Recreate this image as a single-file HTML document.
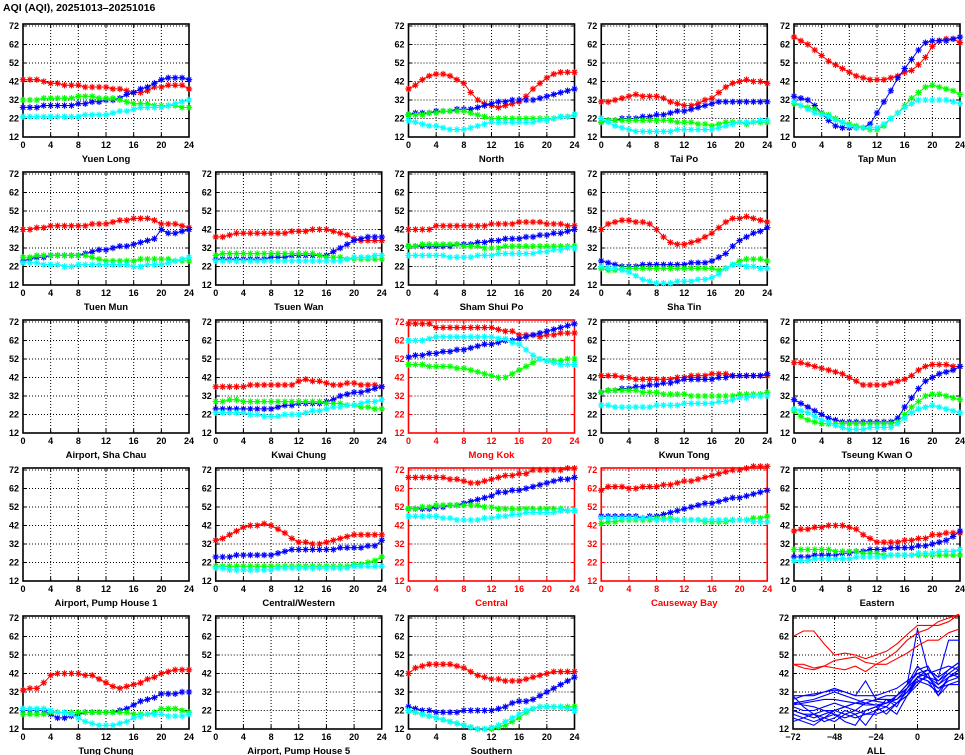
<!DOCTYPE html>
<html><head><meta charset="utf-8"><style>
html,body{margin:0;padding:0;background:#fff;}
svg{display:block;font-family:"Liberation Sans","DejaVu Sans",sans-serif;font-weight:bold;}
</style></head><body>
<svg id="chart" width="965" height="755" viewBox="0 0 965 755" xmlns="http://www.w3.org/2000/svg">
<text x="3" y="11" font-size="10.5">AQI (AQI), 20251013–20251016</text>
</svg>
<script>
// ---- data (hourly 0..24) ----
const YL_R=[43,43,43,42,41,41,40,40,40,39,39,39,39,38,38,37,36,36,37,39,39,40,40,40,38];
const YL_B=[28,28,28,29,29,29,29,29,30,30,31,31,32,32,33,35,36,38,39,41,43,44,44,44,43];
const YL_G=[32,32,32,33,33,33,33,33,34,34,34,33,33,33,32,31,30,30,30,29,29,29,29,28,28];
const YL_C=[23,23,23,23,23,23,23,23,23,24,24,24,24,25,26,26,27,28,28,28,28,29,30,31,32];
const NO_R=[38,40,43,45,46,46,45,43,41,36,32,30,29,28,29,30,31,34,38,41,44,46,47,47,47];
const NO_B=[24,25,25,25,26,26,26,27,27,27,28,29,30,31,31,32,32,32,32,33,34,35,36,37,38];
const NO_G=[24,24,24,25,25,26,26,26,26,25,24,23,22,22,22,22,22,22,22,22,22,22,23,23,24];
const NO_C=[21,20,19,18,18,17,16,16,16,17,18,19,20,20,20,20,20,20,20,21,21,22,23,23,24];
const TP_R=[31,31,32,33,34,35,34,34,34,33,31,30,29,29,30,32,33,36,39,41,42,43,42,42,41];
const TP_B=[20,21,21,22,22,22,23,23,24,24,25,26,26,27,28,29,30,31,31,31,31,31,31,31,31];
const TP_G=[20,21,21,21,21,21,21,21,21,21,21,20,20,20,19,19,18,19,20,20,20,19,20,20,20];
const TP_C=[22,20,18,17,16,15,15,15,15,15,15,16,16,16,16,16,16,17,18,19,20,20,20,21,21];
const TM_R=[66,64,62,59,56,53,51,49,47,45,44,43,43,43,44,45,47,48,51,55,61,64,65,65,63];
const TM_B=[34,33,32,29,25,21,18,17,17,17,17,19,25,31,37,44,49,54,59,63,64,64,64,65,66];
const TM_G=[30,29,28,27,25,24,22,20,19,18,17,16,16,18,22,25,29,33,36,39,40,39,38,37,35];
const TM_C=[31,29,27,25,24,23,21,20,18,17,17,17,17,19,22,25,28,30,32,32,32,32,32,31,30];
const TU_R=[42,42,43,43,44,44,44,44,44,44,45,45,45,46,47,47,48,48,48,47,45,45,45,44,43];
const TU_B=[25,26,27,27,28,28,28,28,28,29,30,31,31,32,33,33,34,35,36,37,42,40,40,41,42];
const TU_G=[27,27,28,28,28,28,28,28,28,28,27,26,25,25,25,25,25,26,26,26,26,26,25,25,25];
const TU_C=[24,24,24,23,23,23,22,22,23,23,23,23,23,23,23,23,22,22,23,23,23,24,25,26,27];
const TW_R=[38,38,39,40,40,40,40,40,40,40,40,41,41,41,42,42,42,41,40,39,37,36,36,36,36];
const TW_B=[26,26,26,26,26,26,26,26,27,27,27,28,28,28,28,28,28,30,32,34,36,37,38,38,38];
const TW_G=[28,29,29,29,29,29,29,29,29,29,29,29,29,29,29,28,27,27,27,26,26,26,26,26,26];
const TW_C=[25,25,25,25,25,25,25,25,25,25,25,25,25,25,25,25,25,25,25,26,27,27,27,28,28];
const SS_R=[42,42,42,42,44,44,44,44,44,44,44,44,45,45,45,45,46,46,46,46,45,45,45,44,44];
const SS_B=[33,33,33,33,33,33,33,34,34,34,35,35,36,36,37,37,37,38,38,39,39,40,40,41,42];
const SS_G=[33,33,34,34,34,34,34,34,33,33,33,32,32,32,33,33,33,33,33,33,33,33,33,33,33];
const SS_C=[28,28,28,28,28,28,27,27,27,27,28,28,28,29,29,29,29,29,29,30,30,31,31,32,32];
const ST_R=[42,45,46,47,47,46,46,45,42,38,35,34,34,35,36,38,40,43,46,48,48,49,48,47,46];
const ST_B=[25,24,23,22,22,22,23,23,23,23,23,23,23,24,24,24,25,27,29,33,36,38,40,41,43];
const ST_G=[21,20,20,21,21,21,21,21,21,21,21,21,21,21,21,21,21,20,21,23,25,26,26,26,25];
const ST_C=[22,21,21,20,19,17,15,14,13,13,13,14,14,14,15,15,16,18,21,23,23,22,22,21,21];
const KC_R=[37,37,37,37,37,38,38,38,38,38,38,38,40,41,40,40,39,38,38,39,39,38,38,38,37];
const KC_B=[25,25,25,25,25,25,25,25,25,26,27,27,28,28,28,28,29,30,32,33,34,34,35,36,37];
const KC_G=[29,29,30,30,29,29,29,29,29,29,29,29,29,29,29,29,28,28,28,27,27,26,26,25,25];
const KC_C=[23,23,23,23,23,22,22,21,21,21,22,22,22,23,24,24,25,26,26,27,27,28,29,29,30];
const MK_R=[71,71,71,71,69,69,69,69,69,69,69,69,69,68,67,67,65,65,65,64,65,65,66,66,66];
const MK_B=[53,54,54,55,55,56,56,57,57,58,59,60,60,61,62,62,63,64,65,66,67,68,69,70,71];
const MK_G=[49,49,49,48,48,48,48,47,47,46,45,44,43,42,42,44,46,48,50,52,51,51,51,52,52];
const MK_C=[62,62,62,63,64,64,64,64,64,64,64,64,64,63,63,61,60,57,54,52,51,50,49,49,49];
const KT_R=[43,43,43,42,42,41,41,41,41,41,41,42,42,43,43,43,44,44,44,43,43,43,43,43,43];
const KT_B=[34,35,35,36,36,37,37,38,38,39,39,40,41,41,41,41,41,42,42,43,43,43,43,43,44];
const KT_G=[34,35,35,35,35,35,34,34,34,33,33,33,33,32,32,32,32,32,32,32,33,33,33,33,34];
const KT_C=[27,27,26,26,26,26,26,26,27,27,27,27,28,28,28,28,28,29,29,30,31,31,32,32,32];
const TK_R=[50,50,49,48,47,46,45,44,42,40,38,38,38,38,39,40,41,43,46,48,49,49,49,48,48];
const TK_B=[30,28,26,24,22,20,19,18,18,18,18,18,18,18,18,20,26,31,36,40,42,44,45,46,48];
const TK_G=[24,21,19,18,17,17,17,17,17,17,17,17,17,17,17,18,22,26,29,32,33,33,32,31,30];
const TK_C=[25,24,23,21,19,18,16,15,14,14,14,15,15,15,15,17,20,23,25,26,27,26,25,24,23];
const CW_R=[34,35,37,39,41,42,42,43,42,40,38,35,33,33,32,32,33,34,35,36,37,37,37,37,37];
const CW_B=[25,25,25,26,26,26,26,26,26,27,28,29,29,29,29,29,29,29,30,30,30,30,31,31,34];
const CW_G=[20,20,20,20,20,20,20,20,20,20,20,20,20,20,20,20,20,20,20,20,21,21,22,23,25];
const CW_C=[19,19,18,18,18,18,18,18,18,19,19,19,19,19,19,19,19,19,19,19,20,20,20,20,20];
const CE_R=[68,68,68,68,68,68,67,67,66,65,65,66,67,68,69,69,70,70,72,72,72,72,72,73,73];
const CE_B=[51,51,51,51,52,52,53,53,54,55,56,57,58,60,60,61,61,62,63,64,65,66,67,67,68];
const CE_G=[51,51,52,52,53,53,53,53,53,53,53,52,52,51,51,51,51,51,51,51,51,51,51,50,50];
const CE_C=[47,47,47,47,47,46,46,45,45,45,45,46,46,47,47,48,48,49,49,49,49,49,50,50,50];
const CB_R=[61,63,63,63,62,62,63,63,63,64,64,65,66,66,67,68,69,70,71,72,72,73,74,74,74];
const CB_B=[47,47,47,47,47,47,46,47,47,48,49,50,51,52,53,54,54,55,56,57,57,58,59,60,61];
const CB_G=[43,44,44,45,45,45,45,45,46,46,46,45,45,45,45,44,44,44,44,45,45,45,46,46,47];
const CB_C=[46,46,46,46,46,46,46,46,45,45,45,45,45,45,45,45,45,45,45,45,45,45,44,44,44];
const EA_R=[39,40,40,41,41,42,42,42,41,40,37,35,33,33,33,33,34,34,35,35,37,37,38,38,38];
const EA_B=[25,25,25,26,26,26,26,27,27,28,28,29,29,29,30,30,30,30,31,31,32,33,34,36,39];
const EA_G=[29,29,29,29,29,29,28,28,28,28,27,27,27,26,26,26,26,26,26,26,26,26,26,26,26];
const EA_C=[23,23,23,24,24,24,24,24,24,25,25,25,25,25,26,26,26,26,27,27,27,28,28,28,29];
const TC_R=[33,34,34,37,41,42,42,42,42,41,41,39,37,35,34,35,36,37,39,40,42,43,44,44,44];
const TC_B=[22,22,22,22,20,18,18,19,20,21,21,21,21,21,22,23,25,27,28,29,31,31,31,32,32];
const TC_G=[20,20,20,20,21,21,21,21,21,21,21,21,21,21,21,21,20,20,20,21,23,23,23,22,21];
const TC_C=[23,23,23,23,22,21,21,20,18,16,15,14,14,14,15,16,18,19,20,20,20,19,19,19,20];
const SO_R=[42,45,46,47,47,47,47,46,45,43,41,40,39,39,38,38,38,39,40,41,42,43,43,43,43];
const SO_B=[24,23,22,22,21,21,21,21,22,22,22,22,22,23,24,26,27,27,28,30,32,34,36,38,40];
const SO_G=[22,21,20,19,18,17,16,15,14,13,12,12,12,13,14,16,18,21,23,24,24,24,24,24,24];
const SO_C=[22,21,20,19,18,17,16,15,14,13,12,12,13,14,16,18,20,22,23,24,24,24,24,23,22];
// ALL panel: hours -72..24 step 6
const ALL_HOURS=[-72,-66,-60,-54,-48,-42,-36,-30,-24,-18,-12,-6,0,6,12,18,24];
const ALL_RED_1=[62,65,65,58,52,53,52,50,52,54,58,63,68,68,68,70,74];
const ALL_RED_2=[47,45,44,46,49,50,51,48,47,50,54,60,64,66,70,72,74];
const ALL_RED_3=[47,47,45,46,45,44,46,43,47,47,50,53,57,60,60,64,66];
const ALL_BLUE_1=[30,24,20,16,18,22,20,14,22,28,26,30,40,38,30,40,44];
const ALL_BLUE_2=[22,20,18,20,22,24,26,28,27,26,30,34,44,46,36,42,46];
const ALL_BLUE_3=[25,26,27,28,28,27,26,25,25,26,30,36,42,44,40,44,48];
const ALL_BLUE_4=[20,18,16,18,22,20,18,20,22,24,20,30,38,40,34,38,40];
const ALL_BLUE_5=[26,27,28,30,32,30,28,26,28,28,28,34,40,42,30,36,38];
const ALL_BLUE_6=[18,16,14,18,20,16,14,22,24,20,26,32,38,36,32,40,42];
const ALL_BLUE_7=[24,22,22,24,26,24,22,20,20,22,26,30,36,42,44,46,44];
const ALL_BLUE_8=[28,30,30,32,34,32,30,38,28,30,30,36,66,44,40,60,60];
const ALL_BLUE_9=[22,20,20,18,16,20,22,26,28,28,24,34,40,38,34,36,36];
const ALL_BLUE_10=[30,30,31,32,33,32,30,30,30,32,34,38,42,40,36,40,44];
const ALL_BLUE_11=[16,18,20,22,20,18,20,22,24,26,28,32,40,44,38,42,40];
const ALL_BLUE_12=[26,25,24,22,22,24,26,26,25,24,30,36,46,40,38,44,48];
const Y_TICKS=[12,22,32,42,52,62,72];
const X_TICKS=[0,4,8,12,16,20,24];
const ALL_X_TICKS=[-72,-48,-24,0,24];

const stations=[
 {n:"Yuen Long",c:0,r:0,s:[YL_R,YL_B,YL_G,YL_C]},
 {n:"North",c:2,r:0,s:[NO_R,NO_B,NO_G,NO_C]},
 {n:"Tai Po",c:3,r:0,s:[TP_R,TP_B,TP_G,TP_C]},
 {n:"Tap Mun",c:4,r:0,s:[TM_R,TM_B,TM_G,TM_C]},
 {n:"Tuen Mun",c:0,r:1,s:[TU_R,TU_B,TU_G,TU_C]},
 {n:"Tsuen Wan",c:1,r:1,s:[TW_R,TW_B,TW_G,TW_C]},
 {n:"Sham Shui Po",c:2,r:1,s:[SS_R,SS_B,SS_G,SS_C]},
 {n:"Sha Tin",c:3,r:1,s:[ST_R,ST_B,ST_G,ST_C]},
 {n:"Airport, Sha Chau",c:0,r:2,s:null},
 {n:"Kwai Chung",c:1,r:2,s:[KC_R,KC_B,KC_G,KC_C]},
 {n:"Mong Kok",c:2,r:2,road:true,s:[MK_R,MK_B,MK_G,MK_C]},
 {n:"Kwun Tong",c:3,r:2,s:[KT_R,KT_B,KT_G,KT_C]},
 {n:"Tseung Kwan O",c:4,r:2,s:[TK_R,TK_B,TK_G,TK_C]},
 {n:"Airport, Pump House 1",c:0,r:3,s:null},
 {n:"Central/Western",c:1,r:3,s:[CW_R,CW_B,CW_G,CW_C]},
 {n:"Central",c:2,r:3,road:true,s:[CE_R,CE_B,CE_G,CE_C]},
 {n:"Causeway Bay",c:3,r:3,road:true,s:[CB_R,CB_B,CB_G,CB_C]},
 {n:"Eastern",c:4,r:3,s:[EA_R,EA_B,EA_G,EA_C]},
 {n:"Tung Chung",c:0,r:4,s:[TC_R,TC_B,TC_G,TC_C]},
 {n:"Airport, Pump House 5",c:1,r:4,s:null},
 {n:"Southern",c:2,r:4,s:[SO_R,SO_B,SO_G,SO_C]}
];
const COLORS=["#ff0000","#0000ff","#00ff00","#00ffff"];
const NS="http://www.w3.org/2000/svg";
const svg=document.getElementById('chart');
const W=166,PITCHX=192.75,PITCHY=148;
function mk(tag,attrs,parent){const e=document.createElementNS(NS,tag);for(const k in attrs)e.setAttribute(k,attrs[k]);(parent||svg).appendChild(e);return e;}
function slug(s){return s.toLowerCase().replace(/[^a-z0-9]+/g,'-').replace(/-$/,'');}

function drawFrame(g,left,bottom,xMin,xMax,xTicks,name,road){
  const top=bottom-113;
  const yS=v=>bottom-(v-12)*1.85;
  const xS=h=>left+(h-xMin)*W/(xMax-xMin);
  const fc=road?"#ff0000":"#000";
  Y_TICKS.forEach(v=>{
    const y=yS(v);
    if(v>12){const l=mk('line',{x1:left,x2:left+W,y1:y,y2:y,stroke:"#000","stroke-width":1,"stroke-dasharray":"1,2"},g);
      
      }
    mk('line',{x1:left,x2:left+4,y1:y,y2:y,stroke:fc,"stroke-width":1},g);
    mk('line',{x1:left+W-4,x2:left+W,y1:y,y2:y,stroke:fc,"stroke-width":1},g);
    const t=mk('text',{x:left-4,y:y+3,"font-size":9,"text-anchor":"end",fill:fc},g);
    t.textContent=v;
    
    
  });
  xTicks.forEach((h,i)=>{
    const x=xS(h);
    if(i>0&&i<xTicks.length-1){const l=mk('line',{x1:x,x2:x,y1:top,y2:bottom,stroke:"#000","stroke-width":1,"stroke-dasharray":"1,2"},g);
      
      }
    mk('line',{x1:x,x2:x,y1:bottom,y2:bottom-4,stroke:fc,"stroke-width":1},g);
    mk('line',{x1:x,x2:x,y1:top,y2:top+4,stroke:fc,"stroke-width":1},g);
    const t=mk('text',{x:x,y:bottom+11,"font-size":9,"text-anchor":"middle",fill:fc},g);
    t.textContent=(h<0?"\u2212"+(-h):h);
    
    
  });
  const f=mk('rect',{x:left,y:top,width:W,height:113,fill:"none",stroke:fc,"stroke-width":1.6},g);
  
  
  const t=mk('text',{x:left+W/2,y:bottom+25,"font-size":9.5,"text-anchor":"middle",fill:fc},g);
  t.textContent=name;
  
  
  return {xS,yS};
}

stations.forEach(st=>{
  const left=23+st.c*PITCHX, bottom=137+st.r*PITCHY;
  const g=mk('g',{});
  
  
  const {xS,yS}=drawFrame(g,left,bottom,0,24,X_TICKS,st.n,st.road);
  if(!st.s)return;
  st.s.forEach((arr,si)=>{
    const col=COLORS[si];
    const pts=arr.map((v,h)=>xS(h).toFixed(1)+","+yS(v).toFixed(1)).join(" ");
    const pl=mk('polyline',{points:pts,fill:"none",stroke:col,"stroke-width":1},g);
    
    
    let d="";
    arr.forEach((v,h)=>{const x=xS(h),y=yS(v),a=3.2,b=2.3;
      d+=`M${x-a},${y}h${2*a}M${x},${y-a}v${2*a}M${x-b},${y-b}l${2*b},${2*b}M${x-b},${y+b}l${2*b},${-2*b}`;});
    const m=mk('path',{d:d,stroke:col,"stroke-width":1.1,fill:"none"},g);
    
    
  });
});

// ALL panel
(function(){
  const left=23+4*PITCHX-1, bottom=137+4*PITCHY;
  const g=mk('g',{});
  
  
  const {xS,yS}=drawFrame(g,left,bottom,-72,24,ALL_X_TICKS,"ALL",false);
  const blues=[ALL_BLUE_1,ALL_BLUE_2,ALL_BLUE_3,ALL_BLUE_4,ALL_BLUE_5,ALL_BLUE_6,ALL_BLUE_7,ALL_BLUE_8,ALL_BLUE_9,ALL_BLUE_10,ALL_BLUE_11,ALL_BLUE_12];
  const reds=[ALL_RED_1,ALL_RED_2,ALL_RED_3];
  blues.forEach(arr=>{
    const pl=mk('polyline',{points:arr.map((v,i)=>xS(ALL_HOURS[i]).toFixed(1)+","+yS(v).toFixed(1)).join(" "),fill:"none",stroke:"#0000ff","stroke-width":1.1},g);
    
    
  });
  reds.forEach(arr=>{
    const pl=mk('polyline',{points:arr.map((v,i)=>xS(ALL_HOURS[i]).toFixed(1)+","+yS(v).toFixed(1)).join(" "),fill:"none",stroke:"#ff0000","stroke-width":1.1},g);
    
    
  });
})();
</script>
</body></html>
